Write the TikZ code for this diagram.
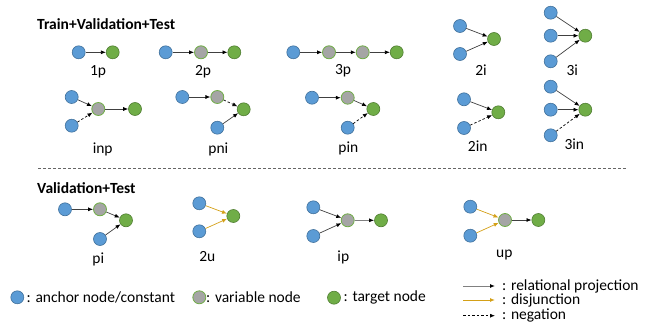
\documentclass[tikz,border=0pt]{standalone}
\usepackage{fontspec}
\setmainfont{Carlito}
\usetikzlibrary{arrows.meta}
\definecolor{ablue}{HTML}{5B9BD5}
\definecolor{ablueb}{HTML}{41719C}
\definecolor{vgray}{HTML}{A5A5A5}
\definecolor{tgreen}{HTML}{70AD47}
\definecolor{tgreenb}{HTML}{507E32}
\definecolor{dorange}{HTML}{D4A017}
\definecolor{lgray}{HTML}{404040}
\tikzset{
  anc/.style={circle,fill=ablue,draw=ablueb,line width=0.6pt,minimum size=13pt,inner sep=0pt},
  var/.style={circle,fill=vgray,draw=tgreen,line width=0.8pt,minimum size=13pt,inner sep=0pt},
  tgt/.style={circle,fill=tgreen,draw=tgreenb,line width=0.6pt,minimum size=13pt,inner sep=0pt},
  proj/.style={draw=lgray,line width=0.7pt,-{Latex[color=black,length=5pt,width=4pt]}},
  neg/.style={draw=black,line width=0.7pt,dash pattern=on 2.5pt off 2pt,-{Latex[color=black,length=5pt,width=4pt]}},
  disj/.style={draw=dorange,line width=0.7pt,-{Latex[color=dorange,length=5pt,width=4pt]}},
  lbl/.style={font=\fontsize{15.5}{18}\selectfont,inner sep=0pt},
  ttl/.style={font=\fontsize{15.5}{18}\selectfont\bfseries,inner sep=0pt,anchor=west},
  leg/.style={font=\fontsize{15.5}{18}\selectfont,inner sep=0pt,anchor=west},
}
\begin{document}
\begin{tikzpicture}[x=1pt,y=-1pt]
\useasboundingbox (0,0) rectangle (652,329);
% titles
\node[ttl] (t1) at (37,24) {Train+Validation+Test};
\node[ttl] (t2) at (37,188) {Validation+Test};
% separator
\coordinate (s1) at (38,168.5);
\coordinate (s2) at (627,168.5);
\draw[black!60,line width=0.6pt,dash pattern=on 3pt off 2pt] (s1) -- (s2);

% 1p
\node[anc] (p1a) at (78.7,52.3) {};
\node[tgt] (p1t) at (112.7,52.3) {};
\draw[proj] (p1a) -- (p1t);
\node[lbl] (l1p) at (98,72) {1p};

% 2p
\node[anc] (p2a) at (165.7,52.3) {};
\node[var] (p2v) at (201,52.3) {};
\node[tgt] (p2t) at (234.3,52.3) {};
\draw[proj] (p2a) -- (p2v);
\draw[proj] (p2v) -- (p2t);
\node[lbl] (l2p) at (203,72) {2p};

% 3p
\node[anc] (p3a) at (293.3,52.3) {};
\node[var] (p3v1) at (329,52.3) {};
\node[var] (p3v2) at (362.7,52.3) {};
\node[tgt] (p3t) at (396.7,52.3) {};
\draw[proj] (p3a) -- (p3v1);
\draw[proj] (p3v1) -- (p3v2);
\draw[proj] (p3v2) -- (p3t);
\node[lbl] (l3p) at (343,71) {3p};

% 2i
\node[anc] (i2a) at (460,26) {};
\node[anc] (i2b) at (460,54) {};
\node[tgt] (i2t) at (494,39) {};
\draw[proj] (i2a) -- (i2t);
\draw[proj] (i2b) -- (i2t);
\node[lbl] (l2i) at (481,70) {2i};

% 3i
\node[anc] (i3a) at (550.7,12.7) {};
\node[anc] (i3b) at (550.7,35.7) {};
\node[anc] (i3c) at (550.7,61.3) {};
\node[tgt] (i3t) at (585.3,35.7) {};
\draw[proj] (i3a) -- (i3t);
\draw[proj] (i3b) -- (i3t);
\draw[proj] (i3c) -- (i3t);
\node[lbl] (l3i) at (572.3,70) {3i};

% inp
\node[anc] (na) at (71.7,97) {};
\node[anc] (nb) at (71.7,125.7) {};
\node[var] (nv) at (98.3,109) {};
\node[tgt] (nt) at (135,109) {};
\draw[proj] (na) -- (nv);
\draw[neg] (nb) -- (nv);
\draw[proj] (nv) -- (nt);
\node[lbl] (linp) at (102.7,149) {inp};

% pni
\node[anc] (ma) at (182.3,97) {};
\node[var] (mv) at (217.3,97) {};
\node[tgt] (mt) at (243.7,109.3) {};
\node[anc] (mb) at (217.3,127.7) {};
\draw[proj] (ma) -- (mv);
\draw[neg] (mv) -- (mt);
\draw[proj] (mb) -- (mt);
\node[lbl] (lpni) at (218.3,149) {pni};

% pin
\node[anc] (qa) at (312,97.7) {};
\node[var] (qv) at (347.7,97.7) {};
\node[tgt] (qt) at (373.3,109) {};
\node[anc] (qb) at (347.7,127.7) {};
\draw[proj] (qa) -- (qv);
\draw[proj] (qv) -- (qt);
\draw[neg] (qb) -- (qt);
\node[lbl] (lpin) at (348.3,148) {pin};

% 2in
\node[anc] (ja) at (464,99.3) {};
\node[anc] (jb) at (464,128) {};
\node[tgt] (jt) at (498.3,112.3) {};
\draw[proj] (ja) -- (jt);
\draw[neg] (jb) -- (jt);
\node[lbl] (l2in) at (477.7,146) {2in};

% 3in
\node[anc] (ka) at (550.7,86.7) {};
\node[anc] (kb) at (550.7,109.7) {};
\node[anc] (kc) at (550.7,135.3) {};
\node[tgt] (kt) at (585.3,109.7) {};
\draw[proj] (ka) -- (kt);
\draw[proj] (kb) -- (kt);
\draw[neg] (kc) -- (kt);
\node[lbl] (l3in) at (574.3,144.3) {3in};

% pi
\node[anc] (ra) at (65,209.3) {};
\node[var] (rv) at (100,209.3) {};
\node[tgt] (rt) at (126,220.3) {};
\node[anc] (rb) at (100,239) {};
\draw[proj] (ra) -- (rv);
\draw[proj] (rv) -- (rt);
\draw[proj] (rb) -- (rt);
\node[lbl] (lpi) at (98.3,259) {pi};

% 2u
\node[anc] (ua) at (199.3,203.3) {};
\node[anc] (ub) at (199.3,231.3) {};
\node[tgt] (ut) at (233.3,216) {};
\draw[disj] (ua) -- (ut);
\draw[disj] (ub) -- (ut);
\node[lbl] (l2u) at (207.3,256.7) {2u};

% ip
\node[anc] (wa) at (313.3,207.3) {};
\node[anc] (wb) at (313.3,236) {};
\node[var] (wv) at (347.7,220.3) {};
\node[tgt] (wt) at (381,220.3) {};
\draw[proj] (wa) -- (wv);
\draw[proj] (wb) -- (wv);
\draw[proj,draw=black!50,line width=1pt] (wv) -- (wt);
\node[lbl] (lip) at (343.3,257.3) {ip};

% up
\node[anc] (xa) at (470.3,206.7) {};
\node[anc] (xb) at (470.3,235.7) {};
\node[var] (xv) at (505,220) {};
\node[tgt] (xt) at (538.3,220) {};
\draw[disj] (xa) -- (xv);
\draw[disj] (xb) -- (xv);
\draw[proj] (xv) -- (xt);
\node[lbl] (lup) at (504.3,255) {up};

% legend nodes
\node[anc] (ga) at (17.3,297.3) {};
\node[leg] (gat) at (26.5,297.3) {: anchor node/constant};
\node[var] (gv) at (199.3,297.3) {};
\node[leg] (gvt) at (206,297.3) {: variable node};
\node[tgt] (gt) at (334,297.7) {};
\node[leg] (gtt) at (343.5,297.7) {: target node};

% legend arrows
\coordinate (e1s) at (463.3,286);
\coordinate (e1e) at (495,286);
\coordinate (e2s) at (463.3,300);
\coordinate (e2e) at (495,300);
\coordinate (e3s) at (463.3,315.7);
\coordinate (e3e) at (495,315.7);
\draw[proj,draw=black!50,line width=1pt] (e1s) -- (e1e);
\draw[disj,line width=1pt] (e2s) -- (e2e);
\draw[neg] (e3s) -- (e3e);
\node[leg] (e1t) at (502,286) {: relational projection};
\node[leg] (e2t) at (502,300) {: disjunction};
\node[leg] (e3t) at (502,315.7) {: negation};
\end{tikzpicture}
\end{document}
